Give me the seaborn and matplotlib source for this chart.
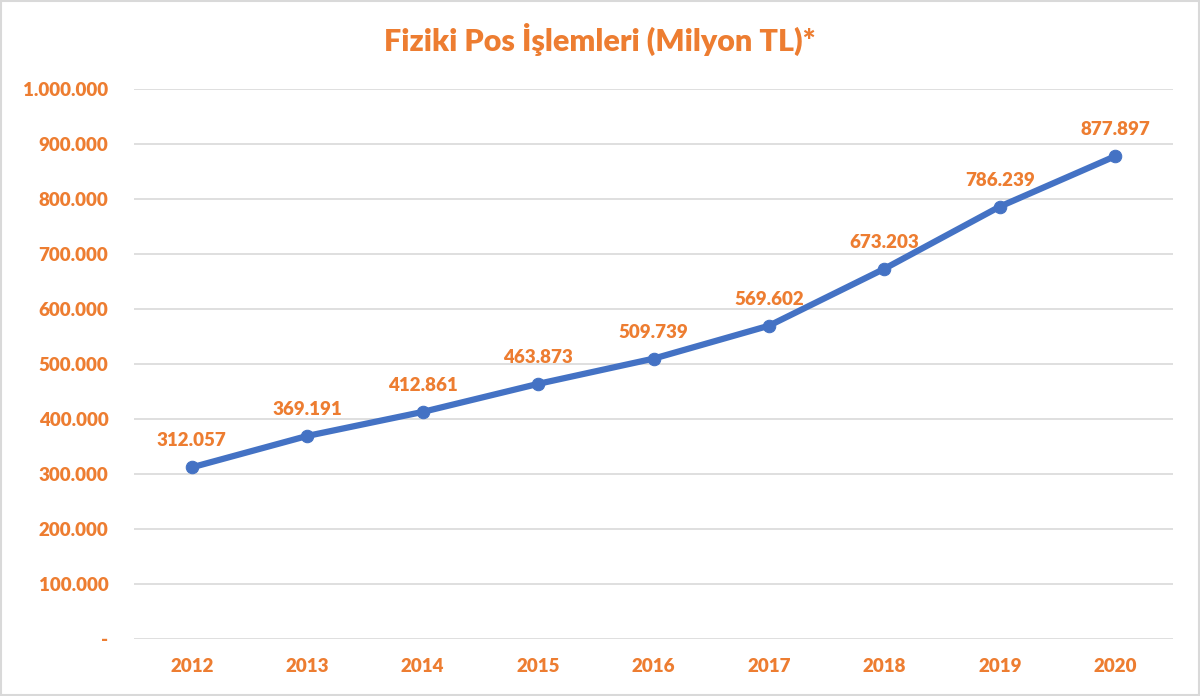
import matplotlib
matplotlib.use("Agg")
import matplotlib.pyplot as plt
import seaborn as sns
import pandas as pd
from matplotlib.ticker import FuncFormatter
from matplotlib.patches import Rectangle

# veri
years = ["2012", "2013", "2014", "2015", "2016", "2017", "2018", "2019", "2020"]
values = [312057, 369191, 412861, 463873, 509739, 569602, 673203, 786239, 877897]
y_ticks = [0, 100000, 200000, 300000, 400000, 500000, 600000, 700000, 800000, 900000, 1000000]

orange = "#ED7D31"
blue = "#4472C4"

df = pd.DataFrame({"yil": years, "deger": values})

sns.set_style("white")
plt.rcParams["font.family"] = ["Lato", "DejaVu Sans"]

fig = plt.figure(figsize=(12, 6.96), dpi=100)
ax = fig.add_axes([0.1117, 0.0819, 0.8658, 0.7902])

sns.lineplot(data=df, x="yil", y="deger", ax=ax, color=blue, linewidth=4.5,
             marker="o", markersize=9, markeredgecolor=blue, sort=False)

def tr_format(v, pos):
    if v == 0:
        return "-"
    return f"{int(v):,}".replace(",", ".")

ax.set_ylim(0, 1000000)
ax.set_xlim(-0.5, len(years) - 0.5)
ax.set_yticks(y_ticks)
ax.yaxis.set_major_formatter(FuncFormatter(tr_format))
ax.grid(axis="y", color="#D9D9D9", linewidth=1.2)
ax.set_axisbelow(True)
for s in ax.spines.values():
    s.set_visible(False)
ax.tick_params(axis="both", length=0, labelsize=13.5, labelcolor=orange)
ax.tick_params(axis="x", pad=14)
ax.tick_params(axis="y", pad=18.5)
for lab in ax.get_xticklabels() + ax.get_yticklabels():
    lab.set_fontweight("heavy")
ax.set_xlabel("")
ax.set_ylabel("")

# veri etiketleri
for i, v in enumerate(values):
    ax.annotate(tr_format(v, None), (i, v), xytext=(0, 13), textcoords="offset points",
                ha="center", va="bottom", color=orange, fontsize=13.5, fontweight="heavy")

fig.text(0.5, 0.943, "Fiziki Pos İşlemleri (Milyon TL)*", ha="center", va="center",
         color=orange, fontsize=22, fontweight="heavy")

fig.patches.append(Rectangle((0.001, 0.001), 0.998, 0.998, transform=fig.transFigure,
                             fill=False, edgecolor="#D9D9D9", linewidth=1.5))

fig.savefig("out.png", dpi=100)
